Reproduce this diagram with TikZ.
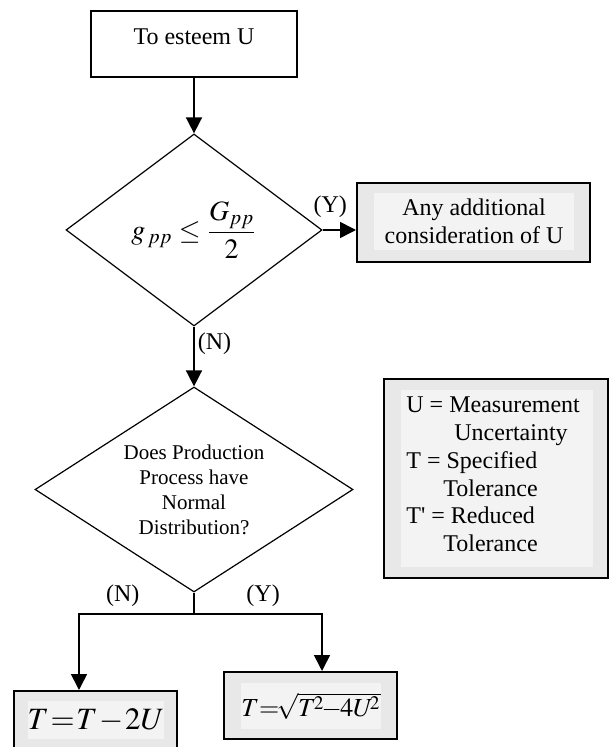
\documentclass[tikz,border=0pt]{standalone}
\usepackage{amsmath}
\usepackage{mathptmx}
\usepackage[no-math]{fontspec}
\setmainfont{Liberation Serif}
\usetikzlibrary{shapes.geometric,arrows.meta}
\definecolor{shadeout}{HTML}{E8E8E8}
\definecolor{shadein}{HTML}{F3F3F3}

\begin{document}
\begin{tikzpicture}[x=0.5pt, y=-0.5pt, font=\fontsize{12}{14}\selectfont,
	arr/.style={-{Triangle[length=8pt,width=8pt]}, line width=0.8pt},
	plainbox/.style={draw, line width=0.6pt, fill=white, inner sep=0pt},
	outerbox/.style={draw, line width=1pt, fill=shadeout, inner sep=0pt},
	innerbox/.style={fill=shadein, inner sep=0pt, align=center},
	decision/.style={draw, diamond, line width=0.6pt, inner sep=0pt, align=center},
	yn/.style={inner sep=0pt}]
		\useasboundingbox (0,0) rectangle (609,747);
		\clip (0,0) rectangle (609,747);
		\node[plainbox, minimum width=103pt, minimum height=33pt] (esteem) at (194,44) {};
		\node (esteemtxt) at (194,37) {To esteem U};
		\node[decision, aspect=1.33, minimum width=128pt, minimum height=96pt] (gcheck) at (194,230)
		{\fontsize{14}{16}\selectfont$g_{\,pp}\le\dfrac{G_{pp}}{2}$};
		\node[outerbox, minimum width=116.5pt, minimum height=39.5pt] (addbox) at (473.5,222.5) {};
		\node[innerbox, minimum width=100pt, minimum height=28.5pt] (addtxt) at (474,221.5) {Any additional\\consideration of U};
		\node[decision, aspect=1.55, minimum width=159pt, minimum height=102.5pt, font=\fontsize{10.5}{12.5}\selectfont] (normal) at (194,489.5)
		{Does Production\\Process have\\Normal\\Distribution?};
		\node[outerbox, minimum width=112pt, minimum height=99.5pt] (legend) at (496,478.5) {};
		\node[innerbox, minimum width=96pt, minimum height=88.5pt] (legendin) at (497,478.5) {};
		\node[anchor=west, align=left, inner sep=0pt, font=\fontsize{12}{13.9}\selectfont] (legendtxt) at (406,474.5)
		{U = Measurement\\\hspace*{24pt}Uncertainty\\T = Specified\\\hspace*{18.5pt}Tolerance\\T\textquotesingle{} = Reduced\\\hspace*{18.5pt}Tolerance};
		\node[outerbox, minimum width=81.5pt, minimum height=30pt] (nobox) at (95.5,721) {};
		\node[innerbox, minimum width=65pt, minimum height=19pt, font=\fontsize{15.5}{18}\selectfont] (notxt) at (96,720)
		{\thickmuskip=1mu\medmuskip=1mu$T=T-2U$};
		\node[outerbox, minimum width=86.5pt, minimum height=33.5pt] (yesbox) at (310.5,705.5) {};
		\node[innerbox, minimum width=70pt, minimum height=23pt, font=\fontsize{13}{15}\selectfont] (yestxt) at (311,706)
		{$T{=}\mkern-2mu\sqrt{T^{\mkern-2mu 2}\mkern-2mu{-}\mkern-1mu 4U^{\mkern-3mu 2}}$};
		\coordinate (split) at (194,614);
		\coordinate (nturn) at (79,614);
		\coordinate (yturn) at (322,614);
		\draw[arr] (esteem) -- (gcheck);
		\draw[arr] (gcheck.east) -- node[yn, above=5.75pt, pos=0.23]{(Y)} (gcheck.east -| addbox.west);
		\draw[arr] (gcheck.south) -- node[yn, right=1.5pt, pos=0.28]{(N)} (normal.north);
		\draw[line width=0.8pt] (normal.south) -- (split);
		\draw[arr] (split) -- node[yn, above=3.25pt, pos=0.62]{(N)} (nturn) -- (nturn |- nobox.north);
		\draw[arr] (split) -- node[yn, above=3.25pt, pos=0.54]{(Y)} (yturn) -- (yturn |- yesbox.north);
\end{tikzpicture}
\end{document}
